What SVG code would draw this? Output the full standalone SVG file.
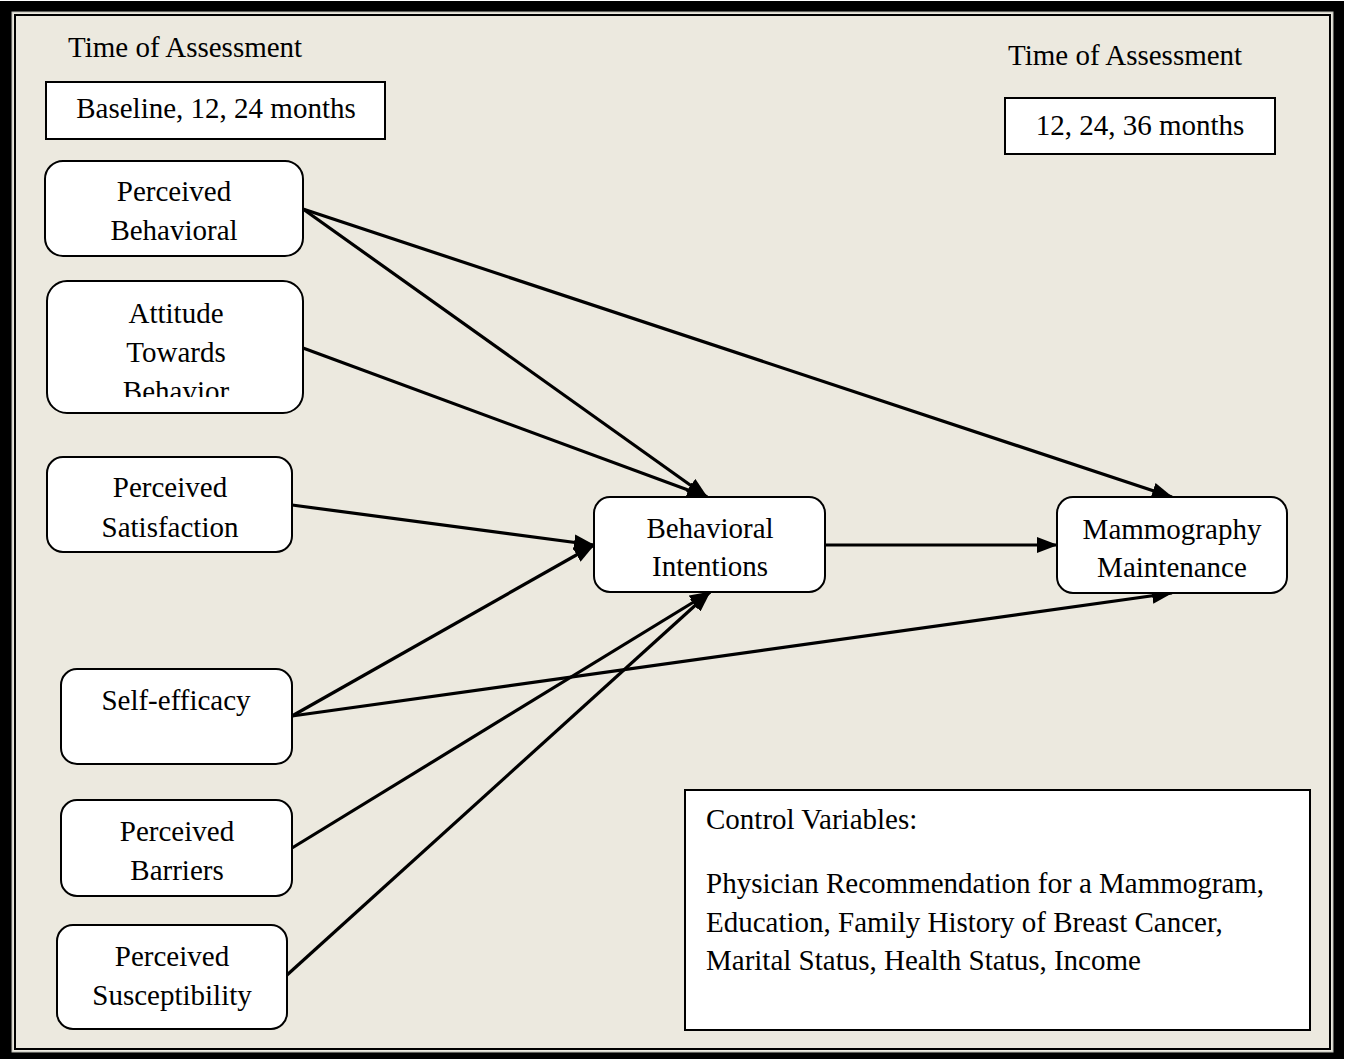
<svg xmlns="http://www.w3.org/2000/svg" width="1347" height="1059" viewBox="0 0 1347 1059">
<style>
text{font-family:"Liberation Serif","Times New Roman",serif;font-size:29px;fill:#000}
.c{text-anchor:middle}
.node{fill:#fff;stroke:#000;stroke-width:2}
.edge{stroke:#000;stroke-width:3.2;fill:none;marker-end:url(#ah)}
</style>
<defs>
<marker id="ah" markerUnits="userSpaceOnUse" markerWidth="22" markerHeight="16" refX="20" refY="8" orient="auto">
<path d="M0,0 L21,8 L0,16 Z" fill="#000"/>
</marker>
<clipPath id="clipATB"><rect x="47" y="281" width="256" height="116"/></clipPath>
</defs>
<rect x="0" y="0" width="1347" height="1059" fill="#fff"/>
<rect x="0" y="1" width="1344" height="1058" fill="#000"/>
<rect x="12" y="12" width="1321" height="1040" fill="#ECE9DF" stroke="#bdbdb5" stroke-width="1"/>
<rect x="15" y="15" width="1315" height="1034" fill="none" stroke="#000" stroke-width="2"/>

<g id="connectors">
<line class="edge" x1="303" y1="209" x2="707" y2="497"/>
<line class="edge" x1="303" y1="209" x2="1172" y2="497"/>
<line class="edge" x1="303" y1="348" x2="707" y2="497"/>
<line class="edge" x1="292" y1="505" x2="594" y2="545"/>
<line class="edge" x1="292" y1="716" x2="594" y2="545"/>
<line class="edge" x1="292" y1="716" x2="1172" y2="593"/>
<line class="edge" x1="292" y1="848" x2="710" y2="592"/>
<line class="edge" x1="287" y1="975" x2="710" y2="592"/>
<line class="edge" x1="825" y1="545" x2="1057" y2="545"/>
</g>

<g id="time-left">
<text x="68" y="57">Time of Assessment</text>
</g>
<g id="time-left-box">
<rect x="46" y="82" width="339" height="57" fill="#fff" stroke="#000" stroke-width="2"/>
<text class="c" x="216" y="118">Baseline, 12, 24 months</text>
</g>
<g id="time-right">
<text x="1008" y="65">Time of Assessment</text>
</g>
<g id="time-right-box">
<rect x="1005" y="98" width="270" height="56" fill="#fff" stroke="#000" stroke-width="2"/>
<text class="c" x="1140" y="135">12, 24, 36 months</text>
</g>

<g id="perceived-behavioral">
<rect class="node" x="45" y="161" width="258" height="95" rx="18"/>
<text class="c" x="174" y="201">Perceived</text>
<text class="c" x="174" y="240">Behavioral</text>
</g>
<g id="attitude">
<rect class="node" x="47" y="281" width="256" height="132" rx="20"/>
<g clip-path="url(#clipATB)">
<text class="c" x="176" y="323">Attitude</text>
<text class="c" x="176" y="362">Towards</text>
<text class="c" x="176" y="401">Behavior</text>
</g>
</g>
<g id="perceived-satisfaction">
<rect class="node" x="47" y="457" width="245" height="95" rx="16"/>
<text class="c" x="170" y="497">Perceived</text>
<text class="c" x="170" y="537">Satisfaction</text>
</g>
<g id="self-efficacy">
<rect class="node" x="61" y="669" width="231" height="95" rx="16"/>
<text class="c" x="176" y="710">Self-efficacy</text>
</g>
<g id="perceived-barriers">
<rect class="node" x="61" y="800" width="231" height="96" rx="16"/>
<text class="c" x="177" y="841">Perceived</text>
<text class="c" x="177" y="880">Barriers</text>
</g>
<g id="perceived-susceptibility">
<rect class="node" x="57" y="925" width="230" height="104" rx="16"/>
<text class="c" x="172" y="966">Perceived</text>
<text class="c" x="172" y="1005">Susceptibility</text>
</g>
<g id="behavioral-intentions">
<rect class="node" x="594" y="497" width="231" height="95" rx="16"/>
<text class="c" x="710" y="538">Behavioral</text>
<text class="c" x="710" y="576">Intentions</text>
</g>
<g id="mammography-maintenance">
<rect class="node" x="1057" y="497" width="230" height="96" rx="16"/>
<text class="c" x="1172" y="539">Mammography</text>
<text class="c" x="1172" y="577">Maintenance</text>
</g>
<g id="control-variables">
<rect x="685" y="790" width="625" height="240" fill="#fff" stroke="#000" stroke-width="2"/>
<text x="706" y="829">Control Variables:</text>
<text x="706" y="893">Physician Recommendation for a Mammogram,</text>
<text x="706" y="932">Education, Family History of Breast Cancer,</text>
<text x="706" y="970">Marital Status, Health Status, Income</text>
</g>
</svg>
